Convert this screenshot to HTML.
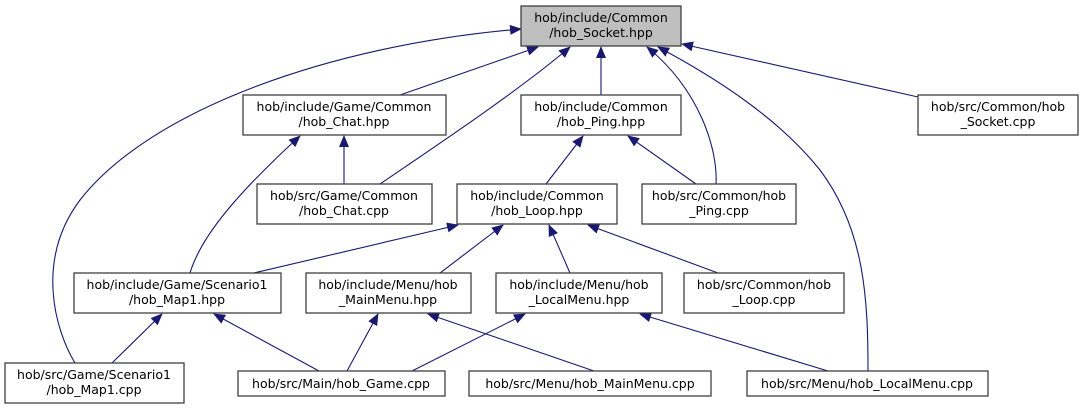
<!DOCTYPE html>
<html><head><meta charset="utf-8"><style>
html,body{margin:0;padding:0;background:#fff;width:1085px;height:409px;overflow:hidden}
svg text{font-family:"DejaVu Sans","Liberation Sans",sans-serif;font-size:12.5px;fill:#000;text-anchor:middle}
rect{fill:#fff;stroke:#404040;stroke-width:1.3}
path{fill:none;stroke:#191970;stroke-width:1.1}
</style></head><body>
<svg width="1085" height="409" xmlns="http://www.w3.org/2000/svg">
<defs><marker id="a" markerWidth="12" markerHeight="10" refX="11" refY="5" orient="auto" markerUnits="userSpaceOnUse"><polygon points="0,0 12,5 0,10" fill="#191970"/></marker></defs>
<path d="M75,363 C55,330 35,260 80,200 C150,110 330,45 521,29" marker-end="url(#a)"/>
<path d="M400,95 L538,47" marker-end="url(#a)"/>
<path d="M380,184 C430,150 520,90 570,47" marker-end="url(#a)"/>
<path d="M601,95 L601,47" marker-end="url(#a)"/>
<path d="M918,97 L682,44" marker-end="url(#a)"/>
<path d="M716,184 C718,150 700,90 647,47" marker-end="url(#a)"/>
<path d="M868,371 C868,300 865,230 820,170 C780,120 720,80 658,47" marker-end="url(#a)"/>
<path d="M344,184 L344,136" marker-end="url(#a)"/>
<path d="M190,273 C200,240 230,200 300,136" marker-end="url(#a)"/>
<path d="M546,184 L583,136" marker-end="url(#a)"/>
<path d="M696,184 L628,136" marker-end="url(#a)"/>
<path d="M254,273 L458,225" marker-end="url(#a)"/>
<path d="M440,273 L503,225" marker-end="url(#a)"/>
<path d="M570,273 L549,225" marker-end="url(#a)"/>
<path d="M718,273 L588,225" marker-end="url(#a)"/>
<path d="M112,363 L162,314" marker-end="url(#a)"/>
<path d="M319,371 L214,314" marker-end="url(#a)"/>
<path d="M347,371 L378,314" marker-end="url(#a)"/>
<path d="M412,371 L525,314" marker-end="url(#a)"/>
<path d="M594,371 L428,314" marker-end="url(#a)"/>
<path d="M828,371 L640,314" marker-end="url(#a)"/>
<rect x="521" y="6" width="160" height="40" style="fill:#bfbfbf"/>
<text x="601" y="22">hob/include/Common</text><text x="601" y="37">/hob_Socket.hpp</text>
<rect x="243" y="95" width="203" height="40"/>
<text x="344" y="111">hob/include/Game/Common</text><text x="344" y="126">/hob_Chat.hpp</text>
<rect x="521" y="95" width="160" height="40"/>
<text x="601" y="111">hob/include/Common</text><text x="601" y="126">/hob_Ping.hpp</text>
<rect x="918" y="95" width="160" height="40"/>
<text x="998" y="111">hob/src/Common/hob</text><text x="998" y="126">_Socket.cpp</text>
<rect x="257" y="184" width="175" height="40"/>
<text x="344" y="200">hob/src/Game/Common</text><text x="344" y="215">/hob_Chat.cpp</text>
<rect x="457" y="184" width="160" height="40"/>
<text x="537" y="200">hob/include/Common</text><text x="537" y="215">/hob_Loop.hpp</text>
<rect x="642" y="184" width="154" height="40"/>
<text x="719" y="200">hob/src/Common/hob</text><text x="719" y="215">_Ping.cpp</text>
<rect x="74" y="273" width="207" height="40"/>
<text x="177" y="289">hob/include/Game/Scenario1</text><text x="177" y="304">/hob_Map1.hpp</text>
<rect x="306" y="273" width="165" height="40"/>
<text x="388" y="289">hob/include/Menu/hob</text><text x="388" y="304">_MainMenu.hpp</text>
<rect x="496" y="273" width="166" height="40"/>
<text x="579" y="289">hob/include/Menu/hob</text><text x="579" y="304">_LocalMenu.hpp</text>
<rect x="684" y="273" width="160" height="40"/>
<text x="764" y="289">hob/src/Common/hob</text><text x="764" y="304">_Loop.cpp</text>
<rect x="5" y="363" width="179" height="40"/>
<text x="94" y="379">hob/src/Game/Scenario1</text><text x="94" y="394">/hob_Map1.cpp</text>
<rect x="238" y="371" width="207" height="25"/>
<text x="341" y="388">hob/src/Main/hob_Game.cpp</text>
<rect x="469" y="371" width="242" height="25"/>
<text x="590" y="388">hob/src/Menu/hob_MainMenu.cpp</text>
<rect x="747" y="371" width="241" height="25"/>
<text x="867" y="388">hob/src/Menu/hob_LocalMenu.cpp</text>
</svg>
</body></html>
